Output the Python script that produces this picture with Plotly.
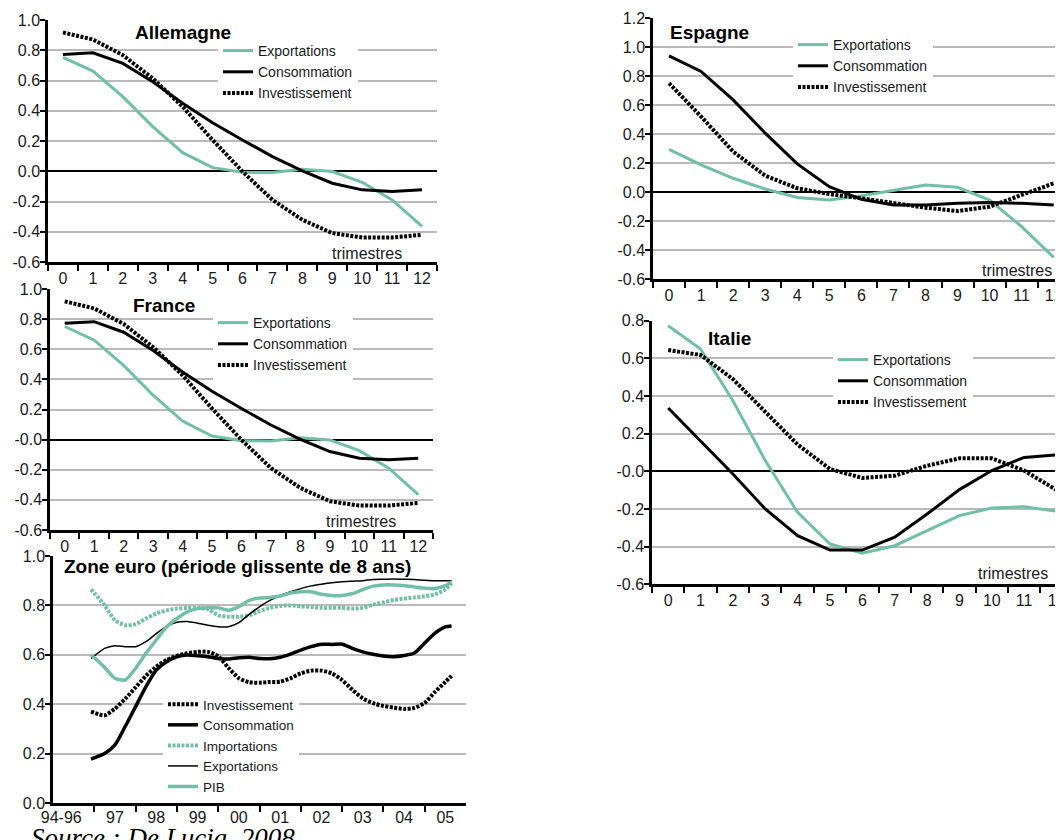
import plotly.graph_objects as go

# ---------------- data ----------------
TRIMESTRES = ["0", "1", "2", "3", "4", "5", "6", "7", "8", "9", "10", "11", "12"]

ALL_EXPORT = [0.753, 0.662, 0.493, 0.295, 0.123, 0.024, -0.007, -0.009, 0.013, -0.002, -0.073, -0.190, -0.365]
ALL_CONSO = [0.772, 0.783, 0.713, 0.592, 0.449, 0.321, 0.207, 0.097, 0.002, -0.079, -0.123, -0.134, -0.123]
ALL_INVEST = [0.918, 0.871, 0.768, 0.614, 0.427, 0.207, -0.002, -0.189, -0.321, -0.409, -0.438, -0.438, -0.420]

FRA_EXPORT = [0.751, 0.660, 0.493, 0.295, 0.123, 0.024, -0.007, -0.009, 0.013, -0.002, -0.073, -0.190, -0.365]
FRA_CONSO = [0.773, 0.783, 0.713, 0.592, 0.449, 0.321, 0.207, 0.097, 0.002, -0.079, -0.123, -0.134, -0.123]
FRA_INVEST = [0.918, 0.871, 0.768, 0.614, 0.427, 0.207, -0.002, -0.189, -0.321, -0.409, -0.438, -0.438, -0.420]

ESP_EXPORT = [0.297, 0.189, 0.097, 0.023, -0.035, -0.053, -0.023, 0.016, 0.051, 0.035, -0.053, -0.237, -0.449]
ESP_CONSO = [0.942, 0.834, 0.638, 0.408, 0.196, 0.039, -0.048, -0.088, -0.088, -0.076, -0.071, -0.076, -0.088]
ESP_INVEST = [0.753, 0.523, 0.281, 0.115, 0.028, -0.012, -0.041, -0.076, -0.106, -0.129, -0.099, -0.018, 0.062]

ITA_EXPORT = [0.773, 0.650, 0.375, 0.057, -0.218, -0.386, -0.435, -0.395, -0.315, -0.235, -0.195, -0.188, -0.212]
ITA_CONSO = [0.336, 0.163, -0.014, -0.200, -0.342, -0.418, -0.418, -0.350, -0.227, -0.097, 0.004, 0.074, 0.087]
ITA_INVEST = [0.644, 0.618, 0.490, 0.313, 0.142, 0.012, -0.035, -0.023, 0.030, 0.069, 0.069, 0.004, -0.099]

# Zone euro: rolling 8-year window, quarterly end dates (in years)
ZE_DATES = [1996.92] + [1997.25 + 0.25 * k for k in range(34)] + [2005.65]
ZE_INVEST = [0.370, 0.355, 0.382, 0.422, 0.468, 0.515, 0.552, 0.579, 0.596, 0.606, 0.612, 0.612,
             0.594, 0.547, 0.505, 0.489, 0.487, 0.490, 0.491, 0.505, 0.525, 0.536, 0.536, 0.525,
             0.498, 0.458, 0.424, 0.404, 0.393, 0.386, 0.381, 0.385, 0.405, 0.450, 0.490, 0.515]
ZE_CONSO = [0.178, 0.200, 0.235, 0.310, 0.390, 0.471, 0.538, 0.572, 0.592, 0.599, 0.596, 0.592,
            0.585, 0.583, 0.588, 0.590, 0.585, 0.584, 0.590, 0.603, 0.619, 0.633, 0.643, 0.642,
            0.643, 0.626, 0.612, 0.602, 0.595, 0.592, 0.597, 0.607, 0.648, 0.688, 0.713, 0.717]
ZE_IMPORT = [0.865, 0.800, 0.740, 0.720, 0.724, 0.747, 0.767, 0.780, 0.787, 0.790, 0.790, 0.785,
             0.760, 0.754, 0.754, 0.760, 0.777, 0.790, 0.798, 0.800, 0.796, 0.794, 0.790, 0.790,
             0.790, 0.787, 0.790, 0.803, 0.812, 0.822, 0.828, 0.832, 0.837, 0.845, 0.865, 0.890]
ZE_EXPORT = [0.585, 0.626, 0.637, 0.633, 0.633, 0.653, 0.686, 0.715, 0.732, 0.735, 0.728, 0.720,
             0.714, 0.714, 0.730, 0.764, 0.794, 0.820, 0.840, 0.855, 0.868, 0.879, 0.886, 0.892,
             0.896, 0.898, 0.900, 0.905, 0.906, 0.907, 0.906, 0.905, 0.902, 0.900, 0.900, 0.900]
ZE_PIB = [0.600, 0.549, 0.505, 0.498, 0.545, 0.606, 0.660, 0.713, 0.747, 0.774, 0.787, 0.790,
          0.790, 0.780, 0.795, 0.820, 0.830, 0.832, 0.838, 0.850, 0.855, 0.855, 0.845, 0.840,
          0.840, 0.848, 0.864, 0.878, 0.883, 0.883, 0.880, 0.875, 0.870, 0.868, 0.880, 0.895]

ZE_TICKVALS = [1996.2, 1997.5, 1998.5, 1999.5, 2000.5, 2001.5, 2002.5, 2003.5, 2004.5, 2005.5]
ZE_TICKTEXT = ["94-96", "97", "98", "99", "00", "01", "02", "03", "04", "05"]
ZE_YEARS = [1997, 1998, 1999, 2000, 2001, 2002, 2003, 2004, 2005]

Y_ALL = [-0.6, -0.4, -0.2, 0.0, 0.2, 0.4, 0.6, 0.8, 1.0]
Y_ALL_TXT = ["-0.6", "-0.4", "-0.2", "0.0", "0.2", "0.4", "0.6", "0.8", "1.0"]
Y_FRA_TXT = ["-0.6", "-0.4", "-0.2", "-0.0", "0.2", "0.4", "0.6", "0.8", "1.0"]
Y_ESP = [-0.6, -0.4, -0.2, 0.0, 0.2, 0.4, 0.6, 0.8, 1.0, 1.2]
Y_ESP_TXT = ["-0.6", "-0.4", "-0.2", "0.0", "0.2", "0.4", "0.6", "0.8", "1.0", "1.2"]
Y_ITA = [-0.6, -0.4, -0.2, 0.0, 0.2, 0.4, 0.6, 0.8]
Y_ITA_TXT = ["-0.6", "-0.4", "-0.2", "-0.0", "0.2", "0.4", "0.6", "0.8"]
Y_ZE = [0.0, 0.2, 0.4, 0.6, 0.8, 1.0]
Y_ZE_TXT = ["0.0", "0.2", "0.4", "0.6", "0.8", "1.0"]

# ---------------- style ----------------
PAGE_OFF = 8                      # default page margin around the figure
W, H = 1063 - PAGE_OFF, 840 - PAGE_OFF
TEAL = "#72BFA7"
GRID = "#bababa"
FONT = "Liberation Sans, Arial, Helvetica, sans-serif"
TXT = "#1a1a1a"
DOT = "3px,1.5px"


def px_x(p):
    return (p - PAGE_OFF) / W


def px_y(p):
    return 1 - (p - PAGE_OFF) / H


fig = go.Figure()


def add_country(n, exp, con, inv, legend):
    xa = "x" if n == 1 else f"x{n}"
    ya = "y" if n == 1 else f"y{n}"
    fig.add_trace(go.Scatter(x=TRIMESTRES, y=exp, xaxis=xa, yaxis=ya, mode="lines", name="Exportations",
                             legend=legend, line=dict(color=TEAL, width=3)))
    fig.add_trace(go.Scatter(x=TRIMESTRES, y=con, xaxis=xa, yaxis=ya, mode="lines", name="Consommation",
                             legend=legend, line=dict(color="black", width=3)))
    fig.add_trace(go.Scatter(x=TRIMESTRES, y=inv, xaxis=xa, yaxis=ya, mode="lines", name="Investissement",
                             legend=legend, line=dict(color="black", width=4, dash=DOT)))


add_country(1, ALL_EXPORT, ALL_CONSO, ALL_INVEST, "legend")
add_country(2, FRA_EXPORT, FRA_CONSO, FRA_INVEST, "legend2")
add_country(4, ESP_EXPORT, ESP_CONSO, ESP_INVEST, "legend4")
add_country(5, ITA_EXPORT, ITA_CONSO, ITA_INVEST, "legend5")

# Zone euro
ze_series = [
    ("Investissement", ZE_INVEST, dict(color="black", width=4, dash=DOT)),
    ("Consommation", ZE_CONSO, dict(color="black", width=3.5)),
    ("Importations", ZE_IMPORT, dict(color=TEAL, width=4, dash=DOT)),
    ("Exportations", ZE_EXPORT, dict(color="black", width=1.5)),
    ("PIB", ZE_PIB, dict(color=TEAL, width=3.5)),
]
for name, vals, ln in ze_series:
    fig.add_trace(go.Scatter(x=ZE_DATES, y=vals, xaxis="x3", yaxis="y3", mode="lines", name=name,
                             legend="legend3", line=dict(shape="spline", smoothing=0.6, **ln)))

tickfont = dict(family=FONT, size=16, color=TXT)


def xcat(domain, rng, anchor):
    return dict(domain=domain, anchor=anchor, type="category", range=rng,
                categoryorder="array", categoryarray=TRIMESTRES,
                showline=True, linecolor="black", linewidth=2.5, mirror=False,
                ticks="outside", tickson="boundaries", ticklen=6, tickwidth=2, tickcolor="black",
                showgrid=False, zeroline=False, tickfont=tickfont, fixedrange=True, automargin=False)


def yax(domain, rng, vals, txt, anchor, zero=True):
    return dict(domain=domain, anchor=anchor, range=rng, tickmode="array", tickvals=vals, ticktext=txt,
                showline=True, linecolor="black", linewidth=2.5,
                ticks="outside", ticklen=5, tickwidth=2, tickcolor="black", ticklabelstandoff=-3,
                showgrid=True, gridcolor=GRID, gridwidth=2,
                zeroline=zero, zerolinecolor="black", zerolinewidth=2,
                tickfont=tickfont, fixedrange=True, automargin=False)


layout = dict(
    width=W, height=H,
    margin=dict(l=0, r=0, t=0, b=0, pad=0, autoexpand=False),
    paper_bgcolor="white", plot_bgcolor="white",
    font=dict(family=FONT, color=TXT),
    showlegend=True,
    # Allemagne
    xaxis=xcat([px_x(48), px_x(437)], [-0.5, 12.5], "y"),
    yaxis=yax([px_y(262), px_y(20)], [-0.6, 1.0], Y_ALL, Y_ALL_TXT, "x"),
    # France
    xaxis2=xcat([px_x(50), px_x(433)], [-0.5, 12.5], "y2"),
    yaxis2=yax([px_y(530), px_y(289)], [-0.6, 1.0], Y_ALL, Y_FRA_TXT, "x2"),
    # Zone euro
    xaxis3=dict(domain=[px_x(53), px_x(466)], anchor="y3", range=[1996.0, 2006.0],
                tickmode="array", tickvals=ZE_TICKVALS, ticktext=ZE_TICKTEXT, ticks="",
                showline=True, linecolor="black", linewidth=2.5, showgrid=False, zeroline=False,
                tickfont=tickfont, fixedrange=True, automargin=False, ticklabelstandoff=-2,
                minor=dict(tickmode="array", tickvals=ZE_YEARS, ticks="outside", ticklen=6,
                           tickwidth=2, tickcolor="black", showgrid=False)),
    yaxis3=yax([px_y(803), px_y(556)], [0.0, 1.0], Y_ZE, Y_ZE_TXT, "x3", zero=False),
    # Espagne
    xaxis4=xcat([px_x(653), 1.0], [-0.5, 12.29], "y4"),
    yaxis4=yax([px_y(279.3), px_y(18.4)], [-0.6, 1.2], Y_ESP, Y_ESP_TXT, "x4"),
    # Italie
    xaxis5=xcat([px_x(652), 1.0], [-0.5, 12.2], "y5"),
    yaxis5=yax([px_y(584.3), px_y(320.7)], [-0.6, 0.8], Y_ITA, Y_ITA_TXT, "x5"),
)

leg_common = dict(xanchor="left", yanchor="top", bgcolor="white", borderwidth=0,
                  tracegroupgap=0, traceorder="normal")
leg_font = dict(family=FONT, size=14, color=TXT)
layout["legend"] = dict(x=px_x(218), y=px_y(35), font=leg_font, **leg_common)
layout["legend2"] = dict(x=px_x(213), y=px_y(307), font=leg_font, **leg_common)
layout["legend3"] = dict(x=px_x(163), y=px_y(689), font=dict(family=FONT, size=13.5, color=TXT), **leg_common)
layout["legend4"] = dict(x=px_x(793), y=px_y(29), font=leg_font, **leg_common)
layout["legend5"] = dict(x=px_x(833), y=px_y(344), font=leg_font, **leg_common)

fig.update_layout(**layout)

annots = []
titles = [("Allemagne", 183, 33), ("France", 164, 306), ("Espagne", 709, 32), ("Italie", 729, 338),
          ("Zone euro (période glissente de 8 ans)", 237, 566)]
for txt, x, y in titles:
    annots.append(dict(text=f"<b>{txt}</b>", x=px_x(x), y=px_y(y), xref="paper", yref="paper",
                       xanchor="center", yanchor="middle", showarrow=False,
                       font=dict(family=FONT, size=19, color="black")))
for x, y in [(367, 254), (361, 521), (1017, 270), (1013, 573)]:
    annots.append(dict(text="trimestres", x=px_x(x), y=px_y(y), xref="paper", yref="paper",
                       xanchor="center", yanchor="middle", showarrow=False,
                       font=dict(family=FONT, size=16, color=TXT)))
annots.append(dict(text="<i>Source : De Lucia, 2008</i>", x=px_x(29), y=px_y(821), xref="paper", yref="paper",
                   xanchor="left", yanchor="top", showarrow=False,
                   font=dict(family="Liberation Serif, Times New Roman, serif", size=27, color="black")))
fig.update_layout(annotations=annots)

fig.write_html("out.html")
